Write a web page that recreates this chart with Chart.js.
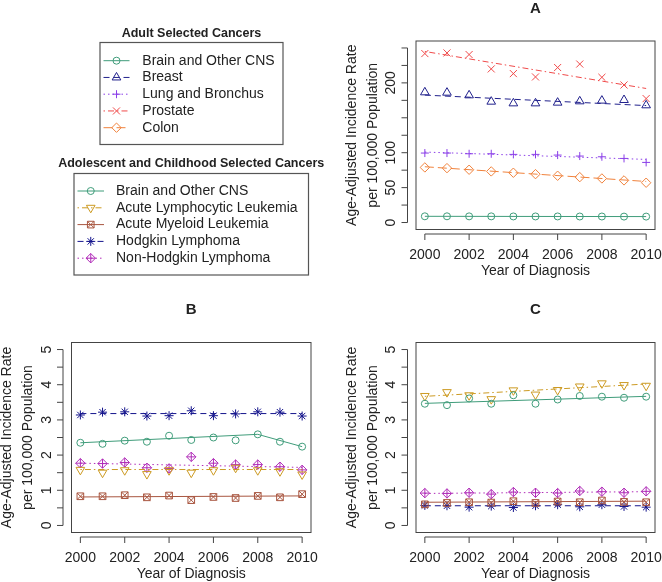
<!DOCTYPE html>
<html>
<head>
<meta charset="utf-8">
<title>Incidence trends</title>
<script src="https://cdn.jsdelivr.net/npm/chart.js@4.4.1/dist/chart.umd.min.js"></script>
<style>
  body { margin: 0; background: #fff; }
  canvas { position: absolute; left: 0; top: 0; }
</style>
</head>
<body>
<canvas id="legendChart" width="662" height="582"></canvas>
<canvas id="chartA" width="662" height="582"></canvas>
<canvas id="chartB" width="662" height="582"></canvas>
<canvas id="chartC" width="662" height="582"></canvas>
<script>
// ---------- DATA
var years      = [2000, 2001, 2002, 2003, 2004, 2005, 2006, 2007, 2008, 2009, 2010];
var trendYears = [2000, 2010];
var trendYearsBrainB = [2000, 2008, 2010];
var xTicks     = [2000, 2002, 2004, 2006, 2008, 2010];

var yTicksA  = [0, 25, 50, 75, 100, 125, 150, 175, 200, 225, 250];
var yLabelsA = [0, 50, 100, 200];
var yTicksBC  = [0, 0.5, 1, 1.5, 2, 2.5, 3, 3.5, 4, 4.5, 5];
var yLabelsBC = [0, 1, 2, 3, 4, 5];

var adultNames = ['Brain and Other CNS', 'Breast', 'Lung and Bronchus', 'Prostate', 'Colon'];
var childNames = ['Brain and Other CNS', 'Acute Lymphocytic Leukemia', 'Acute Myeloid Leukemia', 'Hodgkin Lymphoma', 'Non-Hodgkin Lymphoma'];

// panel A - adults
var adultBrain         = [8.9, 8.9, 8.8, 8.8, 8.7, 8.7, 8.7, 8.6, 8.6, 8.5, 8.5];
var adultBrainTrend    = [8.9, 8.5];
var adultBreast        = [186.5, 186, 182.2, 173.1, 170.7, 170.7, 171.7, 173.6, 174.6, 175.5, 167.9];
var adultBreastTrend   = [182.5, 167.5];
var adultLung          = [99.5, 99.5, 98.5, 98.5, 97.6, 97.6, 96.6, 95.2, 94.2, 91.8, 86.1];
var adultLungTrend     = [100.9, 90.4];
var adultProstate      = [242, 242.9, 240.6, 220, 213.3, 208.5, 222, 227, 208, 197, 177.5];
var adultProstateTrend = [245, 192];
var adultColon         = [78.9, 77.9, 75.6, 73.2, 71.3, 69.3, 67, 65, 63.1, 60.3, 57];
var adultColonTrend    = [79.9, 58.8];

// panel B
var childBrainB        = [2.35, 2.32, 2.41, 2.38, 2.55, 2.43, 2.50, 2.42, 2.59, 2.38, 2.24];
var childBrainBTrend   = [2.35, 2.59, 2.24];
var childAllB          = [1.58, 1.50, 1.57, 1.46, 1.57, 1.50, 1.57, 1.64, 1.57, 1.54, 1.45];
var childAllBTrend     = [1.59, 1.59];
var childAmlB          = [0.83, 0.83, 0.86, 0.80, 0.85, 0.72, 0.81, 0.78, 0.84, 0.80, 0.89];
var childAmlBTrend     = [0.81, 0.84];
var childHodgkinB      = [3.14, 3.22, 3.23, 3.11, 3.12, 3.26, 3.12, 3.17, 3.23, 3.22, 3.11];
var childHodgkinBTrend = [3.18, 3.18];
var childNhlB          = [1.77, 1.76, 1.79, 1.64, 1.62, 1.95, 1.77, 1.73, 1.73, 1.67, 1.58];
var childNhlBTrend     = [1.77, 1.65];

// panel C
var childBrainC        = [3.46, 3.42, 3.61, 3.46, 3.70, 3.46, 3.58, 3.68, 3.66, 3.63, 3.66];
var childBrainCTrend   = [3.47, 3.67];
var childAllC          = [3.68, 3.79, 3.70, 3.59, 3.84, 3.72, 3.85, 3.95, 4.04, 3.99, 3.97];
var childAllCTrend     = [3.67, 4.02];
var childAmlC          = [0.60, 0.64, 0.66, 0.65, 0.69, 0.64, 0.68, 0.66, 0.71, 0.67, 0.66];
var childAmlCTrend     = [0.66, 0.69];
var childHodgkinC      = [0.57, 0.56, 0.52, 0.55, 0.51, 0.56, 0.59, 0.53, 0.59, 0.54, 0.52];
var childHodgkinCTrend = [0.56, 0.56];
var childNhlC          = [0.92, 0.91, 0.93, 0.89, 0.95, 0.93, 0.92, 0.98, 0.96, 0.93, 0.97];
var childNhlCTrend     = [0.91, 0.96];

// ---------- STYLES
var FONT = "'Liberation Sans', Arial, Helvetica, sans-serif";
var INK  = '#222';
var FRAME = '#444';

var styles = {
    brain:    {color: '#3f9c7a', dash: [],             point: 'circle',   r: 3.5},
    breast:   {color: '#20208c', dash: [6, 4],         point: 'triangle', r: 5},
    lung:     {color: '#8a3ee8', dash: [1.5, 3],       point: 'cross',    r: 4},
    prostate: {color: '#f04a4a', dash: [1.5, 3, 6, 3], point: 'crossRot', r: 5},
    colon:    {color: '#f0823c', dash: [9, 4],         point: 'rectRot',  r: 4.7},
    all:      {color: '#cc9a22', dash: [1.5, 3, 6, 3], point: 'triangle', r: 5, rot: 180},
    aml:      {color: '#a8553f', dash: [],             point: 'rect',     r: 4.7, extra: 'crossRot'},
    hodgkin:  {color: '#14148c', dash: [6, 4],         point: 'star',     r: 4.5},
    nhl:      {color: '#b02cb8', dash: [1.5, 3],       point: 'rectRot',  r: 4.7, extra: 'cross'}
};
var adultKeys = ['brain', 'breast', 'lung', 'prostate', 'colon'];
var childKeys = ['brain', 'all', 'aml', 'hodgkin', 'nhl'];

function pts(xs, ys) {
    return xs.map(function (x, i) { return {x: x, y: ys[i]}; });
}

// one trend line + its markers (and an overlay glyph for compound R symbols)
function seriesDatasets(key, values, trendX, trendValues) {
    var s = styles[key];
    var out = [{
        data: pts(trendX, trendValues),
        showLine: true,
        borderColor: s.color,
        borderWidth: 1,
        borderDash: s.dash,
        pointRadius: 0
    }, {
        data: pts(years, values),
        showLine: false,
        pointStyle: s.point,
        pointRotation: s.rot || 0,
        pointRadius: s.r,
        pointBorderColor: s.color,
        pointBackgroundColor: 'rgba(0,0,0,0)',
        pointBorderWidth: 1
    }];
    if (s.extra) {
        out.push({
            data: pts(years, values),
            showLine: false,
            pointStyle: s.extra,
            pointRadius: s.r,
            pointBorderColor: s.color,
            pointBackgroundColor: 'rgba(0,0,0,0)',
            pointBorderWidth: 1
        });
    }
    return out;
}

function line(ctx, x1, y1, x2, y2) {
    ctx.beginPath();
    ctx.moveTo(x1, y1);
    ctx.lineTo(x2, y2);
    ctx.stroke();
}

// R-like frame, detached axes, rotated y labels, titles
var rPanel = {
    id: 'rPanel',
    afterDraw: function (chart, args, o) {
        var ctx = chart.ctx, a = chart.chartArea;
        var xs = chart.scales.x, ys = chart.scales.y;
        ctx.save();
        ctx.strokeStyle = FRAME;
        ctx.lineWidth = 1;
        ctx.setLineDash([]);
        ctx.strokeRect(a.left, a.top, a.right - a.left, a.bottom - a.top);

        // y axis
        var ax = a.left - 8.5;
        line(ctx, ax, ys.getPixelForValue(o.yTicks[0]), ax, ys.getPixelForValue(o.yTicks[o.yTicks.length - 1]));
        o.yTicks.forEach(function (v) {
            var p = ys.getPixelForValue(v);
            line(ctx, ax, p, ax - 6, p);
        });
        // x axis
        var ay = a.bottom + 4.5;
        line(ctx, xs.getPixelForValue(o.xTicks[0]), ay, xs.getPixelForValue(o.xTicks[o.xTicks.length - 1]), ay);
        o.xTicks.forEach(function (v) {
            var p = xs.getPixelForValue(v);
            line(ctx, p, ay, p, ay + 6);
        });

        ctx.fillStyle = INK;
        ctx.font = '14px ' + FONT;
        ctx.textAlign = 'center';
        ctx.textBaseline = 'middle';
        o.yLabels.forEach(function (v) {
            ctx.save();
            ctx.translate(a.left - 24.5, ys.getPixelForValue(v));
            ctx.rotate(-Math.PI / 2);
            ctx.fillText(String(v), 0, 0);
            ctx.restore();
        });
        o.xTicks.forEach(function (v) {
            ctx.fillText(String(v), xs.getPixelForValue(v), a.bottom + 25.5);
        });
        ctx.fillText('Year of Diagnosis', (a.left + a.right) / 2, a.bottom + 41.5);

        var cy = (a.top + a.bottom) / 2;
        ctx.save();
        ctx.translate(a.left - 64, cy);
        ctx.rotate(-Math.PI / 2);
        ctx.fillText('Age-Adjusted Incidence Rate', 0, 0);
        ctx.restore();
        ctx.save();
        ctx.translate(a.left - 43, cy);
        ctx.rotate(-Math.PI / 2);
        ctx.fillText('per 100,000 Population', 0, 0);
        ctx.restore();

        ctx.font = 'bold 15px ' + FONT;
        ctx.fillText(o.title, (a.left + a.right) / 2, a.top - 32.5);
        ctx.restore();
    }
};

function makePanel(id, box, title, datasets, yMin, yMax, yTicks, yLabels) {
    return new Chart(document.getElementById(id), {
        type: 'scatter',
        data: {datasets: datasets},
        options: {
            responsive: false,
            animation: false,
            events: [],
            layout: {padding: {left: box.left, top: box.top, right: 662 - box.right, bottom: 582 - box.bottom}},
            scales: {
                x: {type: 'linear', min: 1999.6, max: 2010.4, display: false},
                y: {type: 'linear', min: yMin, max: yMax, display: false}
            },
            plugins: {
                legend: {display: false},
                tooltip: {enabled: false},
                rPanel: {title: title, xTicks: xTicks, yTicks: yTicks, yLabels: yLabels}
            }
        },
        plugins: [rPanel]
    });
}

var dsA = [].concat(
    seriesDatasets('brain', adultBrain, trendYears, adultBrainTrend),
    seriesDatasets('breast', adultBreast, trendYears, adultBreastTrend),
    seriesDatasets('lung', adultLung, trendYears, adultLungTrend),
    seriesDatasets('prostate', adultProstate, trendYears, adultProstateTrend),
    seriesDatasets('colon', adultColon, trendYears, adultColonTrend)
);
var dsB = [].concat(
    seriesDatasets('brain', childBrainB, trendYearsBrainB, childBrainBTrend),
    seriesDatasets('all', childAllB, trendYears, childAllBTrend),
    seriesDatasets('aml', childAmlB, trendYears, childAmlBTrend),
    seriesDatasets('hodgkin', childHodgkinB, trendYears, childHodgkinBTrend),
    seriesDatasets('nhl', childNhlB, trendYears, childNhlBTrend)
);
var dsC = [].concat(
    seriesDatasets('brain', childBrainC, trendYears, childBrainCTrend),
    seriesDatasets('all', childAllC, trendYears, childAllCTrend),
    seriesDatasets('aml', childAmlC, trendYears, childAmlCTrend),
    seriesDatasets('hodgkin', childHodgkinC, trendYears, childHodgkinCTrend),
    seriesDatasets('nhl', childNhlC, trendYears, childNhlCTrend)
);

makePanel('chartA', {left: 416, right: 655, top: 41, bottom: 229.5}, 'A', dsA, -10, 260, yTicksA, yLabelsA);
makePanel('chartB', {left: 71.5, right: 311, top: 342.5, bottom: 532.5}, 'B', dsB, -0.2, 5.2, yTicksBC, yLabelsBC);
makePanel('chartC', {left: 416, right: 655, top: 342.5, bottom: 532.5}, 'C', dsC, -0.2, 5.2, yTicksBC, yLabelsBC);

//---------- LEGENDS (top left)

function drawGlyph(ctx, style, type, x, y) {
    ctx.strokeStyle = style.color;
    ctx.fillStyle = 'rgba(0,0,0,0)';
    ctx.lineWidth = 1;
    ctx.setLineDash([]);
    Chart.helpers.drawPoint(ctx, {pointStyle: type, rotation: style.rot || 0, radius: style.r, borderWidth: 1}, x, y);
}

function drawLegendBlock(ctx, g) {
    ctx.save();
    ctx.fillStyle = INK;
    ctx.font = 'bold 12.5px ' + FONT;
    ctx.textAlign = 'center';
    ctx.textBaseline = 'middle';
    ctx.fillText(g.title, g.titleX, g.titleY);

    ctx.strokeStyle = '#555';
    ctx.lineWidth = 1.2;
    ctx.strokeRect(g.box[0], g.box[1], g.box[2] - g.box[0], g.box[3] - g.box[1]);

    g.keys.forEach(function (k, i) {
        var s = styles[k];
        var y = g.rowY + i * g.rowStep;
        ctx.strokeStyle = s.color;
        ctx.lineWidth = 1;
        ctx.setLineDash(s.dash);
        line(ctx, g.lineX1, y, g.lineX2, y);
        var px = (g.lineX1 + g.lineX2) / 2;
        drawGlyph(ctx, s, s.point, px, y);
        if (s.extra) drawGlyph(ctx, s, s.extra, px, y);
        ctx.fillStyle = INK;
        ctx.font = '14px ' + FONT;
        ctx.textAlign = 'left';
        ctx.fillText(g.names[i], g.textX, y);
    });
    ctx.restore();
}

var legendPlugin = {
    id: 'rLegends',
    afterDraw: function (chart) {
        var ctx = chart.ctx;
        drawLegendBlock(ctx, {
            title: 'Adult Selected Cancers', titleX: 191.5, titleY: 33.5,
            box: [100, 42.5, 283, 144.5],
            keys: adultKeys, names: adultNames,
            rowY: 60.7, rowStep: 16.75, lineX1: 103.5, lineX2: 129.5, textX: 142.3
        });
        drawLegendBlock(ctx, {
            title: 'Adolescent and Childhood Selected Cancers', titleX: 191.2, titleY: 164,
            box: [74, 173.5, 308.5, 275],
            keys: childKeys, names: childNames,
            rowY: 191, rowStep: 16.8, lineX1: 77.5, lineX2: 104, textX: 116
        });
    }
};

new Chart(document.getElementById('legendChart'), {
    type: 'scatter',
    data: {datasets: []},
    options: {
        responsive: false,
        animation: false,
        events: [],
        scales: {x: {display: false}, y: {display: false}},
        plugins: {legend: {display: false}, tooltip: {enabled: false}}
    },
    plugins: [legendPlugin]
});
</script>
</body>
</html>
